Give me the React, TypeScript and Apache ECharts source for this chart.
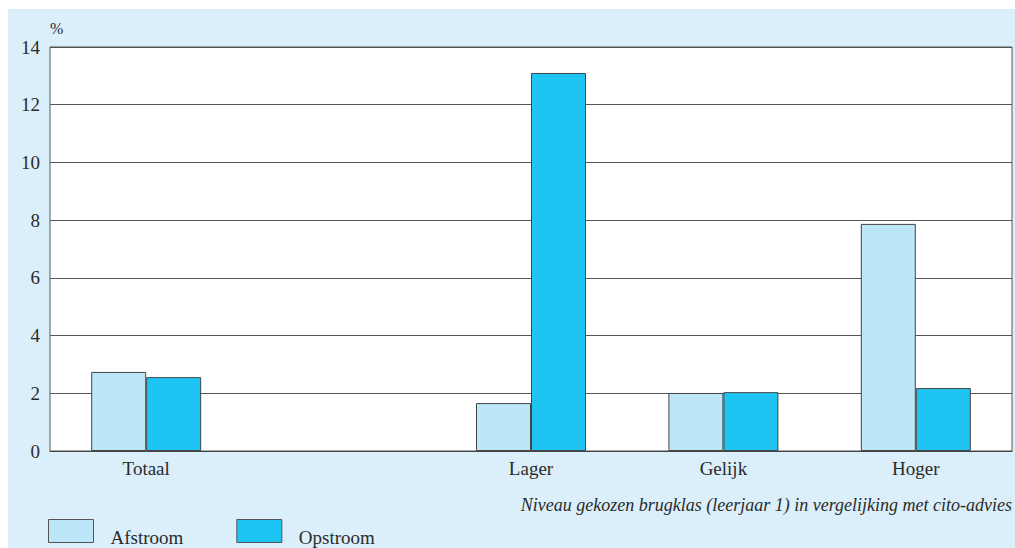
import React, { useEffect, useRef } from "react";
import * as echarts from "echarts";

const categories = ["Totaal", "", "Lager", "Gelijk", "Hoger"];
const afstroom = [2.74, null, 1.66, 2.01, 7.87];
const opstroom = [2.56, null, 13.1, 2.04, 2.18];
const seriesNames = ["Afstroom", "Opstroom"];
const yUnit = "%";
const xTitle = "Niveau gekozen brugklas (leerjaar 1) in vergelijking met cito-advies";

const FONT = "'Liberation Serif', 'DejaVu Serif', serif";
const TXT = "#2b2b2b";

export default function App() {
  const ref = useRef<HTMLDivElement>(null);
  useEffect(() => {
    const chart = echarts.init(ref.current!, null, { renderer: "svg" });
    chart.setOption({
      animation: false,
      backgroundColor: "#ffffff",
      textStyle: { fontFamily: FONT },
      graphic: [
        { type: "rect", z: -10, silent: true, shape: { x: 8, y: 9, width: 1007, height: 539 }, style: { fill: "#daeffa" } },
        { type: "text", left: 50, top: 20, style: { text: yUnit, font: `16px ${FONT}`, fill: TXT } },
        { type: "text", right: 3, top: 496, style: { text: xTitle, font: `italic 18px ${FONT}`, fill: TXT } },
      ],
      grid: {
        left: 50, top: 47, width: 962, height: 404,
        show: true, backgroundColor: "#ffffff", borderColor: "#555", borderWidth: 1,
      },
      legend: {
        left: 48, top: 519, padding: 0, itemWidth: 45, itemHeight: 23, itemGap: 53,
        icon: "rect",
        data: seriesNames,
        formatter: "{a|{name}}",
        textStyle: {
          fontFamily: FONT, fontSize: 19, color: TXT,
          rich: { a: { fontFamily: FONT, fontSize: 19, color: TXT, padding: [12, 0, 0, 12] } },
        },
        itemStyle: { borderColor: "#555", borderWidth: 1 },
      },
      xAxis: {
        type: "category", data: categories,
        axisLine: { lineStyle: { color: "#444" } },
        axisTick: { show: false },
        axisLabel: { fontFamily: FONT, fontSize: 19, color: TXT, margin: 8 },
      },
      yAxis: {
        type: "value", min: 0, max: 14, interval: 2,
        axisLine: { show: false }, axisTick: { show: false },
        splitLine: { lineStyle: { color: "#555", width: 1 } },
        axisLabel: { fontFamily: FONT, fontSize: 19, color: TXT, margin: 10 },
      },
      series: [
        {
          name: seriesNames[0], type: "bar", data: afstroom, barWidth: 55, barGap: "0%",
          itemStyle: { color: "#bde6f8", borderColor: "#444", borderWidth: 1 },
        },
        {
          name: seriesNames[1], type: "bar", data: opstroom, barWidth: 55, barGap: "0%",
          itemStyle: { color: "#1ec5f2", borderColor: "#444", borderWidth: 1 },
        },
      ],
    });
    return () => chart.dispose();
  }, []);
  return <div ref={ref} style={{ position: "absolute", left: 0, top: 0, width: 1015, height: 548 }} />;
}
